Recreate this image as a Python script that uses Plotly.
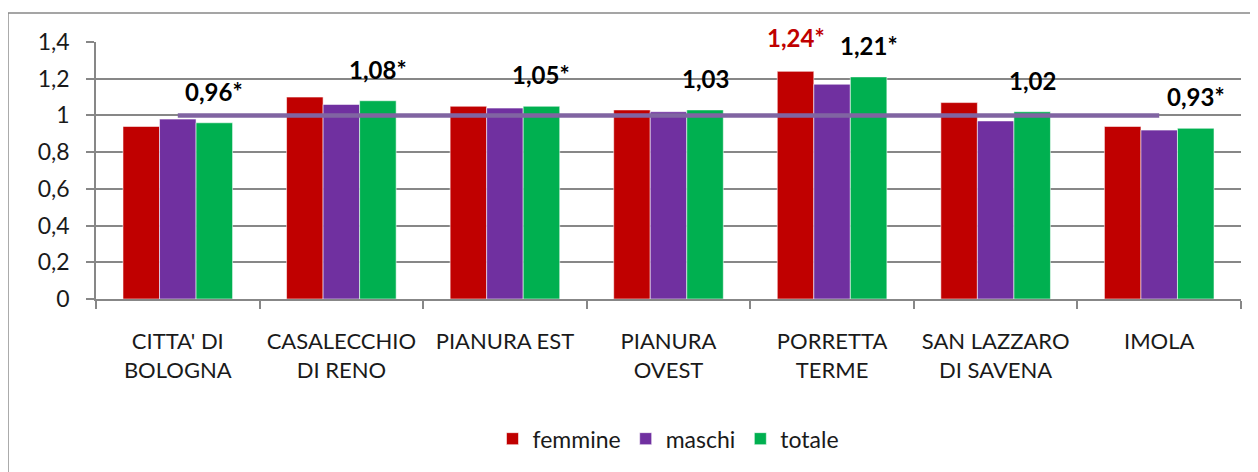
import plotly.graph_objects as go

categorie = ["CITTA' DI<br>BOLOGNA", "CASALECCHIO<br>DI RENO", "PIANURA EST",
             "PIANURA<br>OVEST", "PORRETTA<br>TERME", "SAN LAZZARO<br>DI SAVENA", "IMOLA"]
femmine = [0.94, 1.10, 1.05, 1.03, 1.24, 1.07, 0.94]
maschi = [0.98, 1.06, 1.04, 1.02, 1.17, 0.97, 0.92]
totale = [0.96, 1.08, 1.05, 1.03, 1.21, 1.02, 0.93]
riferimento = [1, 1, 1, 1, 1, 1, 1]
etichette_totale = ["0,96*", "1,08*", "1,05*", "1,03", "1,21*", "1,02", "0,93*"]
etichetta_porretta_femmine = "1,24*"
indice_porretta = 4

FONT = "Lato"
ROSSO = "#C00000"
VIOLA = "#7030A0"
VERDE = "#00B050"
GRIGIO = "#878787"
BARGAP = 0.33

fig = go.Figure()
for nome, valori, colore in [("femmine", femmine, ROSSO), ("maschi", maschi, VIOLA), ("totale", totale, VERDE)]:
    fig.add_trace(go.Bar(
        x=categorie, y=valori, name=nome,
        marker=dict(color=colore, line=dict(color="rgba(255,255,255,0.55)", width=1)),
        hoverinfo="x+y",
    ))

fig.add_trace(go.Scatter(
    x=categorie, y=riferimento, mode="lines", showlegend=False,
    line=dict(color="#8064A2", width=4.5), hoverinfo="skip",
))

w = (1 - BARGAP) / 3
annotations = []
for i, (v, t) in enumerate(zip(totale, etichette_totale)):
    annotations.append(dict(
        x=i + w, y=v, xref="x", yref="y", text="<b>%s</b>" % t, showarrow=False,
        yanchor="bottom", yshift=15, font=dict(family=FONT, size=24, color="#000000"),
    ))
annotations.append(dict(
    x=indice_porretta - w, y=femmine[indice_porretta], xref="x", yref="y",
    text="<b>%s</b>" % etichetta_porretta_femmine, showarrow=False,
    yanchor="bottom", yshift=17, font=dict(family=FONT, size=24, color=ROSSO),
))

fig.update_layout(
    width=1250, height=464,
    margin=dict(l=88, r=17, t=34, b=173),
    paper_bgcolor="white", plot_bgcolor="white",
    separators=", ",
    barmode="group", bargap=BARGAP, bargroupgap=0,
    font=dict(family=FONT, size=22, color="#1a1a1a"),
    legend=dict(orientation="h", x=0.5, xanchor="center", y=-0.46, yanchor="top",
                font=dict(family=FONT, size=23, color="#1a1a1a"), itemwidth=30),
    annotations=annotations,
    shapes=[
        dict(type="line", xref="paper", yref="paper", x0=-0.0769, x1=1.05, y0=1.113, y1=1.113,
             line=dict(color=GRIGIO, width=1.5)),
        dict(type="line", xref="paper", yref="paper", x0=-0.0769, x1=-0.0769, y0=1.113, y1=-0.75,
             line=dict(color=GRIGIO, width=1.5)),
    ],
    showlegend=True,
)
fig.update_yaxes(
    range=[0, 1.4], dtick=0.2, tick0=0,
    showgrid=True, gridcolor=GRIGIO, gridwidth=1.5,
    showline=True, linecolor=GRIGIO, linewidth=1.5,
    ticks="outside", ticklen=8, tickcolor=GRIGIO, tickwidth=1.5,
    ticklabelstandoff=12, zeroline=False,
    tickfont=dict(family=FONT, size=23, color="#1a1a1a"),
)
fig.update_xaxes(
    showline=True, linecolor=GRIGIO, linewidth=1.5,
    ticks="outside", ticklen=8, tickcolor=GRIGIO, tickwidth=1.5,
    tickson="boundaries", ticklabelstandoff=22, tickangle=0,
    tickfont=dict(family=FONT, size=22, color="#1a1a1a"),
)

fig.write_html("out.html")
